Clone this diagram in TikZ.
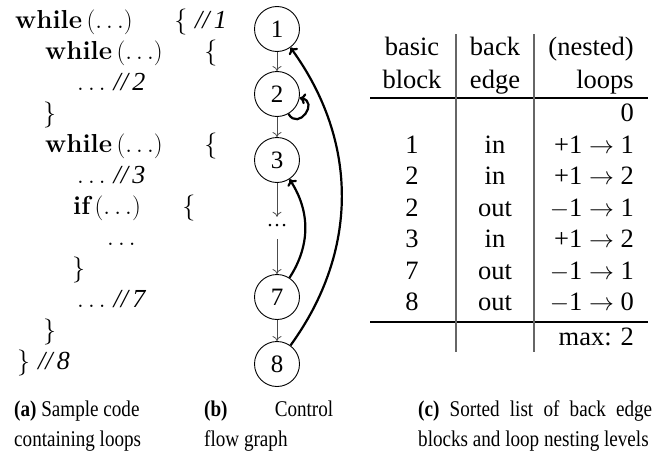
\documentclass[tikz,border=0pt]{standalone}
\usepackage{fontspec}
\newfontfamily\lib{Liberation Serif}
\newfontfamily\libcap[FakeStretch=0.85]{Liberation Serif}
\usetikzlibrary{arrows.meta}
\newcommand{\pdots}{$(.\,.\,.)$}
\newcommand{\sdots}{$.\,.\,.$}
\tikzset{
  code/.style={anchor=base west, inner sep=0pt, font=\fontsize{26}{31}\selectfont},
  tab/.style={anchor=base, inner sep=0pt, font=\lib\fontsize{26.5}{30}\selectfont},
  tabr/.style={tab, anchor=base east},
  cfg/.style={circle, draw, line width=0.9pt, minimum size=45pt, inner sep=0pt, font=\lib\fontsize{25}{30}\selectfont},
  dotsnode/.style={inner sep=0pt, minimum height=22pt, minimum width=18pt},
  flow/.style={draw=black!70, line width=0.8pt, -{To[length=5pt,width=9pt]}},
  back/.style={line width=2.2pt, -{To[length=6pt,width=11pt]}},
  hrule/.style={line width=1.2pt},
  vrule/.style={draw=black!60, line width=1.2pt},
  capt/.style={anchor=base west, inner sep=0pt, font=\libcap\fontsize{22.5}{27}\selectfont},
}
\begin{document}
\begin{tikzpicture}[x=1pt,y=1pt]
\useasboundingbox (0,0) rectangle (670,-471);
% code
\node[code] (c1)  at (15,-28)   {{\bfseries while}\,\pdots\hspace{1.6em}\{ {\lib\itshape //\,1}};
\node[code] (c2)  at (45,-59)   {{\bfseries while}\,\pdots\hspace{1.6em}\{};
\node[code] (c3)  at (77,-90)   {\sdots\ {\lib\itshape //\,2}};
\node[code] (c4)  at (43,-121)  {\}};
\node[code] (c5)  at (45,-152)  {{\bfseries while}\,\pdots\hspace{1.6em}\{};
\node[code] (c6)  at (77,-183)  {\sdots\ {\lib\itshape //\,3}};
\node[code] (c7)  at (73,-214)  {{\bfseries if}\,\pdots\hspace{1.6em}\{};
\node[code] (c8)  at (107,-245) {\sdots};
\node[code] (c9)  at (72,-276)  {\}};
\node[code] (c10) at (77,-307)  {\sdots\ {\lib\itshape //\,7}};
\node[code] (c11) at (43,-338)  {\}};
\node[code] (c12) at (17,-369)  {\} {\lib\itshape //\,8}};
% control flow graph
\node[cfg] (n1) at (277,-29) {1};
\node[cfg] (n2) at (277,-94) {2};
\node[cfg] (n3) at (277,-160) {3};
\node[dotsnode] (nd) at (277,-228) {\lib\fontsize{21}{21}\selectfont\raisebox{0.22em}{…}};
\node[cfg] (n7) at (277,-297) {7};
\node[cfg] (n8) at (277,-364) {8};
\draw[flow] (n1) -- (n2);
\draw[flow] (n2) -- (n3);
\draw[flow] (n3) -- (nd);
\draw[flow] (nd) -- (n7);
\draw[flow] (n7) -- (n8);
\draw[back] (n8) to[bend right=36] (n1);
\draw[back] (n7) to[bend right=33] (n3);
\draw[back] (n2) to[out=-60,in=-10,distance=20pt] (n2);
% table
\coordinate (r1a) at (370,-98);  \coordinate (r1b) at (648,-98);
\coordinate (r2a) at (370,-322); \coordinate (r2b) at (648,-322);
\coordinate (v1a) at (456,-34);  \coordinate (v1b) at (456,-352);
\coordinate (v2a) at (534,-34);  \coordinate (v2b) at (534,-352);
\draw[hrule] (r1a) -- (r1b);
\draw[hrule] (r2a) -- (r2b);
\draw[vrule] (v1a) -- (v1b);
\draw[vrule] (v2a) -- (v2b);
\node[tab] (h1a) at (412,-56) {basic};
\node[tab] (h1b) at (412,-88) {block};
\node[tab] (h2a) at (495,-56) {back};
\node[tab] (h2b) at (495,-88) {edge};
\node[tabr] (h3a) at (634,-56) {(nested)};
\node[tabr] (h3b) at (634,-88) {loops};
\node[tabr] (z0) at (634,-121) {0};
\node[tab] (a1) at (412,-153) {1};
\node[tab] (b1) at (495,-153) {in};
\node[tabr] (l1) at (634,-153) {+1 $\rightarrow$ 1};
\node[tab] (a2) at (412,-184.5) {2};
\node[tab] (b2) at (495,-184.5) {in};
\node[tabr] (l2) at (634,-184.5) {+1 $\rightarrow$ 2};
\node[tab] (a3) at (412,-216) {2};
\node[tab] (b3) at (495,-216) {out};
\node[tabr] (l3) at (634,-216) {$-$1 $\rightarrow$ 1};
\node[tab] (a4) at (412,-247.5) {3};
\node[tab] (b4) at (495,-247.5) {in};
\node[tabr] (l4) at (634,-247.5) {+1 $\rightarrow$ 2};
\node[tab] (a5) at (412,-279) {7};
\node[tab] (b5) at (495,-279) {out};
\node[tabr] (l5) at (634,-279) {$-$1 $\rightarrow$ 1};
\node[tab] (a6) at (412,-310.5) {8};
\node[tab] (b6) at (495,-310.5) {out};
\node[tabr] (l6) at (634,-310.5) {$-$1 $\rightarrow$ 0};
\node[tabr] (mx) at (634,-345) {max: 2};
% captions
\node[capt] (ca1) at (14,-416) {\textbf{(a)} Sample code};
\node[capt] (ca2) at (14,-446) {containing loops};
\node[capt] (cb1) at (204,-416) {\makebox[129pt][s]{\textbf{(b)} Control}};
\node[capt] (cb2) at (204,-446) {flow graph};
\node[capt] (cc1) at (418,-416) {\makebox[234pt][s]{\textbf{(c)} Sorted list of back edge}};
\node[capt] (cc2) at (418,-446) {blocks and loop nesting levels};
\end{tikzpicture}
\end{document}
